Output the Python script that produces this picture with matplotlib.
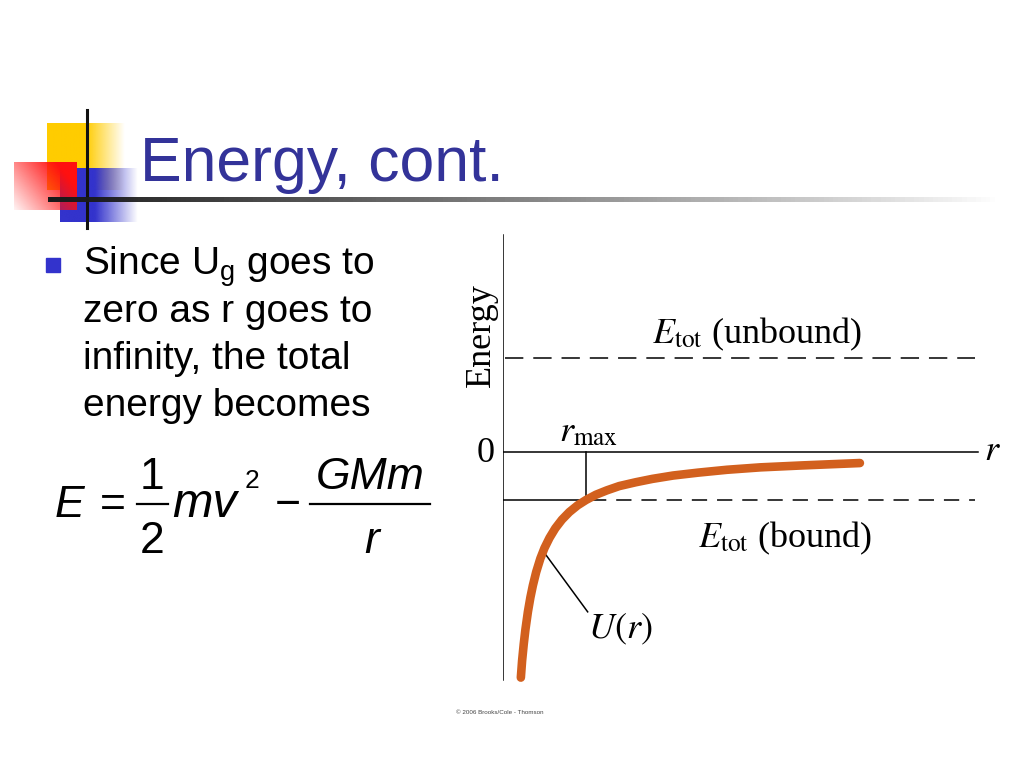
import numpy as np
import matplotlib.pyplot as plt

# curve U(r) (r in units of r_max, energy in units of |E_bound|)
r_curve = [0.215, 0.23, 0.25, 0.27, 0.30, 0.33, 0.36, 0.40, 0.45, 0.50, 0.56, 0.63, 0.71,
           0.80, 0.90, 1.00, 1.12, 1.25, 1.40, 1.60, 1.80, 2.05, 2.35, 2.70, 3.10, 3.60, 4.30]
u_curve = [-4.70, -4.35, -4.00, -3.70, -3.33, -3.03, -2.78, -2.50, -2.22, -2.00, -1.79, -1.59, -1.41,
           -1.25, -1.11, -1.00, -0.89, -0.80, -0.71, -0.63, -0.56, -0.49, -0.43, -0.37, -0.32, -0.28, -0.23]
e_unbound = 1.96
e_bound = -1.0
r_max = 1.0
r_axis_end = 5.72
e_axis_top = 4.52
e_axis_bottom = -4.75

text_lines = ['Since U$_{\\rm g}$ goes to', 'zero as r goes to', 'infinity, the total', 'energy becomes']

plt.rcParams['mathtext.fontset'] = 'custom'
plt.rcParams['mathtext.rm'] = 'Liberation Sans'
plt.rcParams['mathtext.it'] = 'Liberation Sans:italic'

fig = plt.figure(figsize=(10.24, 7.68), dpi=100)

# background axes in pixel coordinates (logo, title, text)
bg = fig.add_axes([0, 0, 1, 1])
bg.axis('off')

def grad_img(color, alpha):
    rgb = np.array(plt.matplotlib.colors.to_rgb(color))
    img = np.zeros(alpha.shape + (4,))
    img[..., :3] = rgb
    img[..., 3] = np.clip(alpha, 0, 1)
    return img

t = np.linspace(0, 1, 200)
# yellow square
a = np.where(t < 0.5, 1.0, 1 - (t - 0.5) / 0.5)
bg.imshow(grad_img('#FFCC00', a[None, :]), extent=(47, 125, 190, 123), aspect='auto', zorder=1)
# blue square
a = np.where(t < 0.45, 1.0, 1 - (t - 0.45) / 0.55)
bg.imshow(grad_img('#3333CC', a[None, :]), extent=(60, 138, 222, 168), aspect='auto', zorder=2)
# red square
xx, yy = np.meshgrid(np.linspace(0, 1, 100), np.linspace(0, 1, 100))
a = 0.05 + 0.75 * xx + 0.45 * (1 - yy)
bg.imshow(grad_img('#FF1010', a), extent=(14, 77, 210, 162), origin='upper', aspect='auto', zorder=3)
# black vertical line
bg.plot([87, 87], [110, 228], color='#111111', lw=2.2, zorder=4)
# fading horizontal rule
a = (1 - t) ** 0.9
bg.imshow(grad_img('#1a1a1a', a[None, :]), extent=(48, 1000, 202, 197), aspect='auto', zorder=4)

bg.text(140, 181, 'Energy, cont.', fontsize=45, color='#333399',
        family='Liberation Sans', ha='left', va='baseline')

# bullet
bg.add_patch(plt.Rectangle((46, 258), 14, 14, color='#3333CC'))
for i, line in enumerate(text_lines):
    bg.text(83, 275 + i * 47, line, fontsize=28, family='Liberation Sans',
            ha='left', va='baseline')

# E = 1/2 m v^2 - GMm/r
eq = dict(family='Liberation Sans', fontsize=32, va='baseline')
eqi = dict(eq, style='italic')
bg.text(55, 517, 'E', ha='left', **eqi)
bg.text(113, 517, '=', ha='center', **eq)
bg.text(152, 489, '1', ha='center', **eq)
bg.text(152, 553, '2', ha='center', **eq)
bg.plot([137, 168], [504, 504], color='k', lw=1.6)
bg.text(172, 517, 'mv', ha='left', family='Liberation Sans', style='italic',
        fontsize=35, va='baseline')
bg.text(245, 488, '2', ha='left', family='Liberation Sans', fontsize=19, va='baseline')
bg.text(288, 517, '\u2212', ha='center', **eq)
bg.text(370, 489, 'GMm', ha='center', **eqi)
bg.plot([310, 430], [504, 504], color='k', lw=1.6)
bg.text(372, 553, 'r', ha='center', **eqi)

bg.text(500, 712, '\u00a9 2006 Brooks/Cole - Thomson', fontsize=4.5, color='#444444',
        family='Liberation Sans', ha='center', va='center')

# chart labels
serif = dict(family='Liberation Serif', math_fontfamily='stix', fontsize=26)
bg.text(481, 335, 'Energy', rotation=90, ha='center', va='center', **serif)
bg.text(757, 343, r'$E_{\rm tot}$ (unbound)', ha='center', va='baseline', **serif)
bg.text(785, 547, r'$E_{\rm tot}$ (bound)', ha='center', va='baseline', **serif)
bg.text(486, 453, '0', ha='center', va='center', **serif)
bg.text(992, 451, r'$r$', ha='center', va='center', **serif)
bg.text(589, 441, r'$r_{\rm max}$', ha='center', va='baseline', **serif)
bg.text(620, 638, r'$U(r)$', ha='center', va='baseline', **serif)

bg.set_xlim(0, 1024)
bg.set_ylim(768, 0)

# chart axes: r_max = 83 px, one energy unit = 48 px, origin at (503, 452)
ax = fig.add_axes([503 / 1024, 1 - 690 / 768, 500 / 1024, 460 / 768])
ax.set_xlim(0, 500 / 83)
ax.set_ylim(-(690 - 452) / 48, (452 - 230) / 48)
ax.axis('off')

ax.plot([0, 0], [e_axis_bottom, e_axis_top], color='k', lw=1.1)
ax.plot([0, r_axis_end], [0, 0], color='k', lw=1.1)
ax.plot([0.02, 5.69], [e_unbound, e_unbound], color='k', lw=1.1, dashes=(12, 6.5))
ax.plot([0, r_max], [e_bound, e_bound], color='k', lw=1.1)
ax.plot([r_max + 0.06, 5.69], [e_bound, e_bound], color='k', lw=1.1, dashes=(10, 6.5))
ax.plot([r_max, r_max], [0, e_bound], color='k', lw=1.1)
ax.plot([0.52, 1.02], [-2.15, -3.33], color='k', lw=1.1)
ax.plot(r_curve, u_curve, color='#D2601E', lw=6.2, solid_capstyle='round',
        solid_joinstyle='round', zorder=5)

fig.savefig('out.png', dpi=100)
